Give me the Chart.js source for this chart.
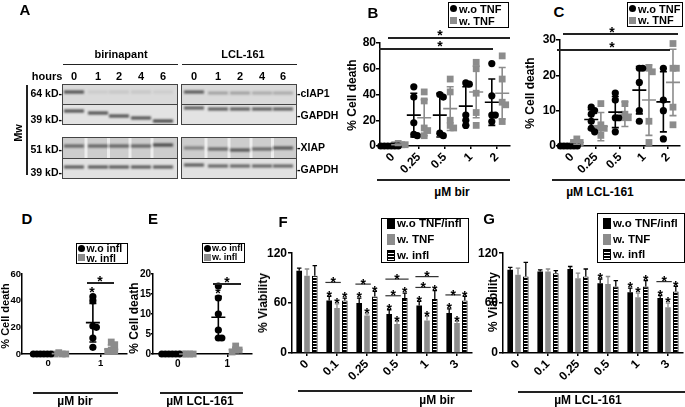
<!DOCTYPE html>
<html>
<head>
<meta charset="utf-8">
<script src="https://cdn.jsdelivr.net/npm/chart.js@4.4.1/dist/chart.umd.min.js"></script>
<style>
 body { margin:0; background:#fff; }
 #page { position:relative; width:685px; height:407px; overflow:hidden; font-family:"Liberation Sans", Arial, sans-serif; font-weight:bold; color:#000; }
 #page canvas { position:absolute; }
 .t { position:absolute; white-space:nowrap; line-height:1; }
 .ln { position:absolute; background:#222; }
</style>
</head>
<body>
<div id="page">
 <canvas id="blot" width="335" height="200" style="left:0;top:0"></canvas>
 <canvas id="chB" width="180" height="150" style="left:335px;top:28px"></canvas>
 <canvas id="chC" width="170" height="150" style="left:515px;top:28px"></canvas>
 <canvas id="chD" width="135" height="110" style="left:0;top:262px"></canvas>
 <canvas id="chE" width="130" height="110" style="left:130px;top:262px"></canvas>
 <canvas id="chF" width="222" height="145" style="left:255px;top:245px"></canvas>
 <canvas id="chG" width="215" height="145" style="left:470px;top:245px"></canvas>
</div>
<script>
// ---- datos ----
// B: % muerte celular, birinapant
var bCats = ['0', '0.25', '0.5', '1', '2'];
var bNoTnf = [[0, 0, 0, 0, 0, 0], [46, 38, 18, 9, 8], [40, 38, 10, 8], [49, 48, 24, 20, 16], [64, 39, 24, 24, 19]];
var bTnf = [[2, 1, 1, 1], [42, 35, 14, 12, 8], [52, 42, 20, 16, 14], [65, 60, 41, 26, 16], [70, 52, 34, 32, 19]];
var bNoTnfMean = [0, 24, 24, 31, 34];
var bNoTnfSd = [0, 17, 17, 15, 18];
var bTnfMean = [1, 22, 29, 42, 41];
var bTnfSd = [0.5, 14, 17, 20, 20];

// C: % muerte celular, LCL-161
var cCats = ['0', '0.25', '0.5', '1', '2'];
var cNoTnf = [[0, 0, 0, 0, 0, 0], [11, 10, 9, 7, 5, 4], [15, 13, 8, 8, 4], [22, 22, 18, 10, 7], [22, 13, 10, 2]];
var cTnf = [[2, 1, 1], [12, 6, 5, 5, 3], [12, 9, 8, 8], [22, 21, 7, 1], [29, 22, 22, 11, 6]];
var cNoTnfMean = [0, 7.5, 9.6, 15.8, 12.5];
var cNoTnfSd = [0, 2.8, 4.4, 6.7, 8.5];
var cTnfMean = [1, 5.5, 9, 13, 18];
var cTnfSd = [0.5, 4, 3.5, 10, 9.4];

// D: birinapant con/sin infl
var dCats = ['0', '1'];
var dNoInfl = [[0, 0, 0, 0, 0, 0], [43, 40, 21, 20, 12, 5]];
var dInfl = [[1, 0, 0, 0], [9, 7, 3, 2, 2]];
var dNoInflMean = [0, 23.5];
var dNoInflSd = [0, 14.5];
var dInflMean = [0.3, 3.5];
var dInflSd = [0.4, 3.2];

// E: LCL-161 con/sin infl
var eCats = ['0', '1'];
var eNoInfl = [[0, 0, 0, 0, 0, 0], [17, 14, 10, 6, 4, 4]];
var eInfl = [[0, 0, 0, 0], [2, 1, 1, 0.5]];
var eNoInflMean = [0, 9.2];
var eNoInflSd = [0, 5.2];
var eInflMean = [0, 1.1];
var eInflSd = [0, 0.6];

// F: % viabilidad, birinapant
var fCats = ['0', '0.1', '0.25', '0.5', '1', '3'];
var fNone = [99, 63, 60, 47, 57, 48];
var fNoneErr = [3, 5, 6, 5, 5, 5];
var fTnf = [93, 54, 45, 35, 39, 36];
var fTnfErr = [8, 5, 2, 3, 5, 2];
var fInfl = [93, 63, 68, 66, 65, 63];
var fInflErr = [12, 3, 6, 6, 10, 5];
var fStars = [[0, 1, 1, 1, 1, 1], [0, 1, 1, 1, 1, 1], [0, 1, 1, 1, 1, 1]];
var fBrackets = [[1, 0, 1, 1], [2, 0, 1, 1], [3, 0, 1, 1], [3, 0, 2, 2], [4, 0, 1, 1], [4, 0, 2, 2], [5, 0, 1, 1]];

// G: % viabilidad, LCL-161
var gCats = ['0', '0.1', '0.25', '0.5', '1', '3'];
var gNone = [100, 98, 101, 84, 73, 66];
var gNoneErr = [3, 2, 3, 5, 5, 3];
var gTnf = [94, 98, 90, 83, 67, 55];
var gTnfErr = [8, 3, 6, 9, 5, 5];
var gInfl = [92, 96, 92, 80, 80, 74];
var gInflErr = [17, 3, 9, 7, 7, 6];
var gStars = [[0, 0, 0, 1, 1, 1], [0, 0, 0, 0, 1, 1], [0, 0, 0, 0, 1, 1]];
var gBrackets = [[5, 0, 1, 1]];

var GRAY = '#8c8c8c';
var FONT = '"Liberation Sans", Arial, sans-serif';
Chart.defaults.font.family = FONT;
Chart.defaults.font.weight = 'bold';
Chart.defaults.color = '#000';

var page = document.getElementById('page');

// texto suelto en la página
function txt(s, x, y, size, align, rot) {
  var d = document.createElement('div');
  d.className = 't';
  d.textContent = s;
  d.style.left = x + 'px';
  d.style.top = y + 'px';
  d.style.fontSize = size + 'px';
  var tx = align === 'l' ? '0' : align === 'r' ? '-100%' : '-50%';
  d.style.transform = 'translate(' + tx + ',-50%)' + (rot ? ' rotate(' + rot + 'deg)' : '');
  page.appendChild(d);
}
function line(x1, x2, y, w) {
  var d = document.createElement('div');
  d.className = 'ln';
  d.style.left = x1 + 'px'; d.style.top = y + 'px';
  d.style.width = (x2 - x1) + 'px'; d.style.height = (w || 1.5) + 'px';
  page.appendChild(d);
}
function vline(x, y1, y2) {
  var d = document.createElement('div');
  d.className = 'ln';
  d.style.left = x + 'px'; d.style.top = y1 + 'px';
  d.style.width = '1.5px'; d.style.height = (y2 - y1) + 'px';
  page.appendChild(d);
}
// estrella con el centro en (x, y)
function star(x, y, size) {
  var d = document.createElement('div');
  d.className = 't';
  d.textContent = '*';
  d.style.fontSize = size + 'px';
  d.style.left = x + 'px';
  d.style.top = (y - size * 0.28) + 'px';
  d.style.transform = 'translateX(-50%)';
  page.appendChild(d);
}

// leyenda con recuadro
function legend(x, y, w, h, items, fs, rows, mx, tx) {
  var box = document.createElement('div');
  box.style.cssText = 'position:absolute;box-sizing:border-box;border:1.5px solid #000;background:#fff;left:' + x + 'px;top:' + y + 'px;width:' + w + 'px;height:' + h + 'px';
  items.forEach(function (it, i) {
    var m = document.createElement('div');
    var small = it.m === 'circle' || it.m === 'square';
    var s = 'position:absolute;';
    if (it.m === 'circle') s += 'width:7px;height:7px;border-radius:50%;background:' + it.c + ';';
    else if (it.m === 'square') s += 'width:7px;height:7px;background:' + it.c + ';';
    else if (it.m === 'bar') s += 'width:8px;height:11px;background:' + it.c + ';';
    else s += 'width:8px;height:11px;box-sizing:border-box;border:1px solid #000;background:repeating-linear-gradient(#000 0 2px,#fff 2px 3px);';
    s += 'left:' + (mx - (small ? 3.5 : 4)) + 'px;top:' + (rows[i] - (small ? 3.5 : 5.5) - 1.5) + 'px';
    m.style.cssText = s;
    box.appendChild(m);
    var t = document.createElement('div');
    t.className = 't';
    t.textContent = it.t;
    t.style.fontSize = fs + 'px';
    t.style.left = tx + 'px';
    t.style.top = (rows[i] - 1.5) + 'px';
    t.style.transform = 'translateY(-50%)';
    box.appendChild(t);
  });
  page.appendChild(box);
}

// reparte puntos que se solapan (en píxeles)
function swarm(vals, pxY) {
  var step = 3.5, placed = [];
  return vals.map(function (v) {
    for (var k = 0; ; k++) {
      var dx = (k % 2 ? 1 : -1) * Math.ceil(k / 2) * step;
      var clash = placed.some(function (p) {
        return Math.abs(p.dx - dx) < step && Math.abs(p.v - v) * pxY < 4;
      });
      if (!clash) { placed.push({ v: v, dx: dx }); return { v: v, dx: dx }; }
    }
  });
}

// media +- DE sobre los puntos
function meanSdPlugin(means, sds, offs, colors) {
  return {
    id: 'meanSd',
    afterDatasetsDraw: function (chart) {
      var c = chart.ctx, xs = chart.scales.x, ys = chart.scales.y;
      means.forEach(function (m, d) {
        c.save();
        c.strokeStyle = colors[d];
        c.lineWidth = 1.6;
        m.forEach(function (v, i) {
          var x = xs.getPixelForValue(i + offs[d]);
          var y = ys.getPixelForValue(v);
          var y1 = ys.getPixelForValue(v + sds[d][i]);
          var y2 = ys.getPixelForValue(Math.max(0, v - sds[d][i]));
          c.beginPath();
          c.moveTo(x - 7, y); c.lineTo(x + 7, y);
          c.moveTo(x, y1); c.lineTo(x, y2);
          c.moveTo(x - 3.5, y1); c.lineTo(x + 3.5, y1);
          c.moveTo(x - 3.5, y2); c.lineTo(x + 3.5, y2);
          c.stroke();
        });
        c.restore();
      });
    }
  };
}

function scatterPanel(id, box, cats, groups, means, sds, ymax, step, offs, rot, fs, ytl) {
  var n = cats.length;
  var pxX = (box.r - box.l) / n, pxY = (box.b - box.t) / ymax;
  var colors = ['#000', GRAY];
  var datasets = groups.map(function (g, d) {
    var pts = [];
    g.forEach(function (vals, i) {
      swarm(vals, pxY).forEach(function (s) {
        pts.push({ x: i + offs[d] + s.dx / pxX, y: s.v });
      });
    });
    return {
      data: pts,
      pointStyle: d ? 'rect' : 'circle',
      pointRadius: d ? 4.8 : 3.6,
      backgroundColor: colors[d],
      borderWidth: 0,
      clip: false
    };
  });
  var yTicks = [];
  for (var v = 0; v <= ymax; v += step) yTicks.push({ value: v });
  return new Chart(document.getElementById(id), {
    type: 'scatter',
    data: { datasets: datasets },
    options: {
      responsive: false,
      animation: false,
      events: [],
      layout: { padding: { top: box.t - box.y, right: box.x + box.w - box.r, left: 0, bottom: 0 } },
      plugins: { legend: { display: false }, tooltip: { enabled: false } },
      scales: {
        x: {
          type: 'linear', min: -0.5, max: n - 0.5,
          afterBuildTicks: function (s) { s.ticks = cats.map(function (c, i) { return { value: i }; }); },
          afterFit: function (s) { s.height = box.y + box.h - box.b; },
          ticks: {
            callback: function (v) { return cats[v]; },
            minRotation: rot, maxRotation: rot, autoSkip: false,
            font: { size: fs, weight: 'bold' }, color: '#000', padding: 1
          },
          grid: { drawOnChartArea: false, tickLength: 3, color: '#000', lineWidth: 1.5 },
          border: { color: '#000', width: 1.5 }
        },
        y: {
          min: 0, max: ymax,
          afterBuildTicks: function (s) { s.ticks = yTicks.slice(); },
          afterFit: function (s) { s.width = box.l - box.x; },
          ticks: { font: { size: fs, weight: 'bold' }, color: '#000', padding: 0, autoSkip: false },
          grid: { drawOnChartArea: false, tickLength: ytl, color: '#000', lineWidth: 1.5 },
          border: { color: '#000', width: 1.5 }
        }
      }
    },
    plugins: [meanSdPlugin(means, sds, offs, colors)]
  });
}

// relleno rayado para "w. infl"
function hatch() {
  var pc = document.createElement('canvas');
  pc.width = 4; pc.height = 3;
  var x = pc.getContext('2d');
  x.fillStyle = '#fff'; x.fillRect(0, 0, 4, 3);
  x.fillStyle = '#000'; x.fillRect(0, 0, 4, 2);
  return x.createPattern(pc, 'repeat');
}

function drawStar(c, x, yBottom) {
  c.font = 'bold 14px ' + FONT;
  c.textAlign = 'center';
  c.textBaseline = 'alphabetic';
  c.fillStyle = '#000';
  c.fillText('*', x, yBottom + 0.44 * 14);
}

// barras de error, estrellas y corchetes de significación
function barDecoPlugin(series, errs, stars, brackets) {
  return {
    id: 'barDeco',
    afterDatasetsDraw: function (chart) {
      var c = chart.ctx, ys = chart.scales.y, tops = [];
      c.save();
      series.forEach(function (vals, d) {
        tops[d] = [];
        chart.getDatasetMeta(d).data.forEach(function (bar, i) {
          var yt = ys.getPixelForValue(vals[i] + errs[d][i]);
          tops[d][i] = yt;
          c.strokeStyle = d === 1 ? GRAY : '#000';
          c.lineWidth = 1.3;
          c.beginPath();
          c.moveTo(bar.x, bar.y); c.lineTo(bar.x, yt);
          c.moveTo(bar.x - bar.width * 0.4, yt); c.lineTo(bar.x + bar.width * 0.4, yt);
          c.stroke();
          if (stars[d][i]) drawStar(c, bar.x, yt - 2);
        });
      });
      var prev = {};
      brackets.forEach(function (br) {
        var i = br[0], a = br[1], b = br[2];
        var ba = chart.getDatasetMeta(a).data[i], bb = chart.getDatasetMeta(b).data[i];
        var y = Infinity;
        for (var d = a; d <= b; d++) y = Math.min(y, tops[d][i]);
        y -= 14;
        if (br[3] > 1 && prev[i] !== undefined) y = Math.min(y, prev[i] - 10);
        prev[i] = y;
        var x1 = ba.x - ba.width / 2 - 1, x2 = bb.x + bb.width / 2 + 1;
        c.strokeStyle = '#333';
        c.lineWidth = 1.2;
        c.beginPath(); c.moveTo(x1, y); c.lineTo(x2, y); c.stroke();
        drawStar(c, (x1 + x2) / 2, y - 1.5);
      });
      c.restore();
    }
  };
}

function barPanel(id, box, cats, series, errs, stars, brackets) {
  var fills = ['#000', GRAY, hatch()];
  return new Chart(document.getElementById(id), {
    type: 'bar',
    data: {
      labels: cats,
      datasets: series.map(function (vals, d) {
        return {
          data: vals,
          backgroundColor: fills[d],
          borderColor: '#000',
          borderWidth: d === 2 ? 1 : 0,
          categoryPercentage: 0.78,
          barPercentage: 0.72
        };
      })
    },
    options: {
      responsive: false,
      animation: false,
      events: [],
      layout: { padding: { top: box.t - box.y, right: box.x + box.w - box.r, left: 0, bottom: 0 } },
      plugins: { legend: { display: false }, tooltip: { enabled: false } },
      scales: {
        x: {
          afterFit: function (s) { s.height = box.y + box.h - box.b; },
          ticks: { minRotation: 45, maxRotation: 45, autoSkip: false, font: { size: 12, weight: 'bold' }, color: '#000', padding: 1 },
          grid: { offset: false, drawOnChartArea: false, tickLength: 3, color: '#000', lineWidth: 1.5 },
          border: { color: '#000', width: 1.5 }
        },
        y: {
          min: 0, max: 120,
          afterBuildTicks: function (s) { s.ticks = [{ value: 0 }, { value: 60 }, { value: 120 }]; },
          afterFit: function (s) { s.width = box.l - box.x; },
          ticks: { font: { size: 12, weight: 'bold' }, color: '#000', padding: 1 },
          grid: { drawOnChartArea: false, tickLength: 4, color: '#000', lineWidth: 1.5 },
          border: { color: '#000', width: 1.5 }
        }
      }
    },
    plugins: [barDecoPlugin(series, errs, stars, brackets)]
  });
}

// panel A: western blot (imagen, no datos)
function drawBlot() {
  var c = document.getElementById('blot').getContext('2d');
  var blocks = [
    { x0: 62, x1: 178, lanes: [74, 98, 119, 141, 163] },
    { x0: 181, x1: 297, lanes: [194, 218, 240, 262, 283] }
  ];
  var rows = [[84, 104, '#dadada'], [104, 125, '#e3e3e3'], [137, 158, '#cdcdcd'], [158, 179, '#e1e1e1']];
  var bands = [
    [[[92, 92, 92, 92, 92], [0.75, 0.08, 0.1, 0.1, 0.07]],
     [[111, 113, 116, 118, 121], [0.75, 0.75, 0.75, 0.75, 0.8]],
     [[146, 146, 146, 146, 145], [0.6, 0.62, 0.62, 0.62, 0.78]],
     [[167, 167, 167, 167, 167], [0.7, 0.7, 0.7, 0.7, 0.7]]],
    [[[92, 93, 93, 93, 93], [0.7, 0.3, 0.3, 0.25, 0.25]],
     [[108, 109, 109, 109, 109], [0.7, 0.7, 0.7, 0.7, 0.7]],
     [[148, 149, 150, 149, 148], [0.45, 0.6, 0.7, 0.6, 0.7]],
     [[165, 166, 166, 166, 166], [0.7, 0.65, 0.65, 0.65, 0.65]]]
  ];
  blocks.forEach(function (bk, k) {
    rows.forEach(function (r, j) {
      c.fillStyle = r[2];
      c.fillRect(bk.x0, r[0], bk.x1 - bk.x0, r[1] - r[0]);
      if (j === 2) {
        c.fillStyle = '#ededed';
        for (var l = 0; l < 4; l++) {
          var gx = (bk.lanes[l] + bk.lanes[l + 1]) / 2;
          c.fillRect(gx - 1.5, r[0], 3, r[1] - r[0]);
        }
      }
      c.save();
      c.filter = 'blur(0.8px)';
      bk.lanes.forEach(function (lx, l) {
        c.fillStyle = 'rgba(25,25,25,' + bands[k][j][1][l] + ')';
        c.fillRect(lx - 10, bands[k][j][0][l] - 1.5, 20, 3);
      });
      c.restore();
    });
    c.strokeStyle = '#444';
    c.lineWidth = 1;
    [[84, 125, 104], [137, 179, 158]].forEach(function (g) {
      c.strokeRect(bk.x0 + 0.5, g[0] + 0.5, bk.x1 - bk.x0 - 1, g[1] - g[0] - 1);
      c.beginPath(); c.moveTo(bk.x0, g[2] + 0.5); c.lineTo(bk.x1, g[2] + 0.5); c.stroke();
    });
  });
}
drawBlot();

// textos del panel A
txt('A', 25, 9, 15, 'c');
txt('birinapant', 121, 54, 11, 'c');
line(63, 178, 64, 1.2);
txt('LCL-161', 243, 54, 11, 'c');
line(182, 297, 64, 1.2);
txt('hours', 47, 76, 11, 'c');
[74, 98, 119, 141, 163, 194, 218, 240, 262, 283].forEach(function (x, i) {
  txt(['0', '1', '2', '4', '6'][i % 5], x, 76, 11, 'c');
});
txt('64 kD-', 62, 93, 10.5, 'r');
txt('39 kD-', 62, 119, 10.5, 'r');
txt('51 kD-', 62, 149, 10.5, 'r');
txt('39 kD-', 62, 172, 10.5, 'r');
txt('-cIAP1', 297, 93, 10.5, 'l');
txt('-GAPDH', 297, 115, 10.5, 'l');
txt('-XIAP', 297, 147, 10.5, 'l');
txt('-GAPDH', 297, 169, 10.5, 'l');
txt('Mw', 18, 133, 11, 'c', -90);
vline(26, 85, 175);

// paneles B y C
scatterPanel('chB', { x: 335, y: 28, w: 180, h: 150, l: 380, t: 43, r: 510, b: 146 },
  bCats, [bNoTnf, bTnf], [bNoTnfMean, bTnfMean], [bNoTnfSd, bTnfSd], 80, 20, [-0.2, 0.2], 45, 12, 4);
scatterPanel('chC', { x: 515, y: 28, w: 170, h: 150, l: 560, t: 40, r: 685, b: 146 },
  cCats, [cNoTnf, cTnf], [cNoTnfMean, cTnfMean], [cNoTnfSd, cTnfSd], 30, 10, [-0.2, 0.2], 45, 12, 4);
txt('B', 373, 12, 15, 'c');
txt('C', 559, 11, 15, 'c');
txt('% Cell death', 352, 95, 12, 'c', -90);
txt('% Cell death', 530, 93, 12, 'c', -90);
line(377, 510, 179); txt('µM bir', 452, 192, 12, 'c');
line(552, 685, 179); txt('µM LCL-161', 600, 192, 12, 'c');
line(388, 510, 37); star(440, 32, 14);
line(379, 493, 48); star(440, 43, 14);
line(563, 678, 33); star(612, 29, 14);
line(557, 670, 49); star(612, 44, 14);
legend(448, 2, 61, 26, [{ m: 'circle', c: '#000', t: 'w.o TNF' }, { m: 'square', c: GRAY, t: 'w. TNF' }], 11, [7, 19], 4, 10);
legend(627, 2, 56, 25, [{ m: 'circle', c: '#000', t: 'w.o TNF' }, { m: 'square', c: GRAY, t: 'w. TNF' }], 11, [7, 18.5], 4, 10);

// paneles D y E
scatterPanel('chD', { x: 0, y: 262, w: 135, h: 110, l: 22, t: 274, r: 127, b: 354 },
  dCats, [dNoInfl, dInfl], [dNoInflMean, dInflMean], [dNoInflSd, dInflSd], 60, 20, [-0.15, 0.2], 0, 9.5, 1);
scatterPanel('chE', { x: 130, y: 262, w: 130, h: 110, l: 153, t: 274, r: 252, b: 354 },
  eCats, [eNoInfl, eInfl], [eNoInflMean, eInflMean], [eNoInflSd, eInflSd], 20, 5, [-0.18, 0.17], 0, 10, 2);
txt('D', 27, 218, 15, 'c');
txt('E', 153, 218, 15, 'c');
txt('% Cell death', 5, 316, 11, 'c', -90);
txt('% Cell death', 134, 318, 12, 'c', -90);
line(33, 118, 392); txt('µM bir', 75, 401, 12, 'c');
line(160, 243, 392); txt('µM LCL-161', 200, 401, 12, 'c');
line(87, 114, 282); star(100, 278, 14);
star(92, 289, 14);
line(213, 241, 283); star(227, 279, 14);
star(218, 290, 14);
legend(76, 243, 52, 21, [{ m: 'circle', c: '#000', t: 'w.o infl' }, { m: 'square', c: GRAY, t: 'w. infl' }], 10.5, [5.5, 15], 4, 9.5);
legend(202, 243, 43, 20, [{ m: 'circle', c: '#000', t: 'w.o infl' }, { m: 'square', c: GRAY, t: 'w. infl' }], 9, [5.5, 14.5], 4, 9);

// paneles F y G
barPanel('chF', { x: 255, y: 245, w: 222, h: 145, l: 292, t: 253, r: 472, b: 353 },
  fCats, [fNone, fTnf, fInfl], [fNoneErr, fTnfErr, fInflErr], fStars, fBrackets);
barPanel('chG', { x: 470, y: 245, w: 215, h: 145, l: 503, t: 253, r: 683, b: 353 },
  gCats, [gNone, gTnf, gInfl], [gNoneErr, gTnfErr, gInflErr], gStars, gBrackets);
txt('F', 283, 221, 15, 'c');
txt('G', 489, 218, 15, 'c');
txt('% Viability', 263, 303, 12, 'c', -90);
txt('% Viability', 493, 302, 12, 'c', -90);
line(298, 472, 390); txt('µM bir', 437, 400, 12, 'c');
line(518, 685, 391); txt('µM LCL-161', 588, 400, 12, 'c');
var barItems = [{ m: 'bar', c: '#000', t: 'w.o TNF/infl' }, { m: 'bar', c: GRAY, t: 'w. TNF' }, { m: 'hatch', t: 'w. infl' }];
legend(381, 218, 88, 45, barItems, 11.5, [6, 22, 38], 9, 15);
legend(597, 213, 88, 50, barItems, 11.5, [11, 27, 42], 9, 15);
</script>
</body>
</html>
